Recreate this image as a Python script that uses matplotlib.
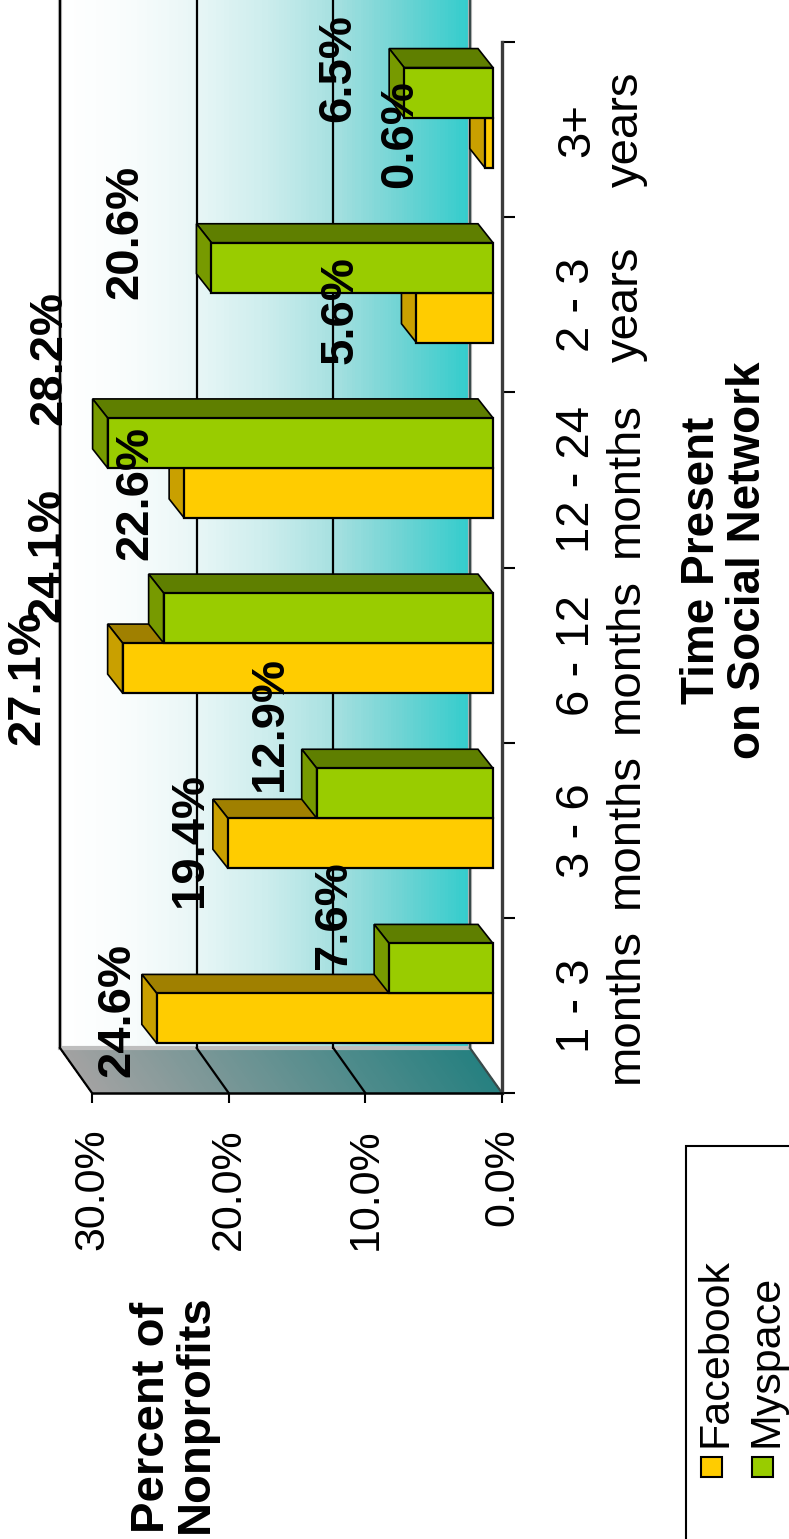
import matplotlib
matplotlib.use("Agg")
import matplotlib.pyplot as plt
import numpy as np
from matplotlib.patches import Polygon, Rectangle
from matplotlib.colors import LinearSegmentedColormap

plt.rcParams["font.family"] = ["Liberation Sans", "DejaVu Sans"]

# ---- data ----
categories = ["1 - 3\nmonths", "3 - 6\nmonths", "6 - 12\nmonths",
              "12 - 24\nmonths", "2 - 3\nyears", "3+\nyears"]
facebook = [24.6, 19.4, 27.1, 22.6, 5.6, 0.6]
myspace = [7.6, 12.9, 24.1, 28.2, 20.6, 6.5]
value_ticks = [0, 10, 20, 30]
value_tick_labels = ["0.0%", "10.0%", "20.0%", "30.0%"]

# label offsets in px (right, down) from the bar tip on the front plane
fb_lab_off = [(-48, -20), (-47, -15), (-104, -2), (-58, -12), (-85, -20), (-94, -21)]
ms_lab_off = [(-64, -65), (-56, -81), (-125, -75), (-67, -97), (-95, -48), (-75, -37)]

# ---- style ----
_FB, _FB_SIDE, _FB_END = "#FFCC00", "#A08000", "#C9A000"
_MS, _MS_SIDE, _MS_END = "#99CC00", "#5F7F00", "#779A00"
wall_cmap = LinearSegmentedColormap.from_list(
    "wall", [(0.0, "#33CCCC"), (0.17, "#70D4D4"), (0.33, "#A6E0E0"),
             (0.5, "#CDEDED"), (0.67, "#E8F6F6"), (0.83, "#F8FCFC"), (1.0, "#FFFFFF")])
side_cmap = LinearSegmentedColormap.from_list("side", ["#268080", "#A2A2A2"])

W, H = 789, 1539
fig = plt.figure(figsize=(W / 100, H / 100), dpi=100)
X0, X1, Y0, Y1 = 92, 502, 42, 1093          # front plane in px
ax = fig.add_axes([X0 / W, 1 - Y1 / H, (X1 - X0) / W, (Y1 - Y0) / H])
ax.set_xlim(30, 0)
ax.set_ylim(-0.5, 5.5)
PXV = (X1 - X0) / 30
PXC = (Y1 - Y0) / 6


def dv(px):
    return px / PXV


def dc(px):
    return px / PXC


BV, BC = dv(32), dc(45)     # back wall offset
SV, SC = dv(9), dc(12)      # bar front-face offset
DV, DC = dv(15), dc(19)     # bar depth
BAR_H = dc(50)

# back wall + side wall gradients
edges = np.linspace(0, 30, 151)
for a, b in zip(edges[:-1], edges[1:]):
    t = (a + b) / 60
    ax.add_patch(Rectangle((a + BV, -0.5 + BC), b - a, 6, fc=wall_cmap(t), ec="none",
                           lw=0, zorder=1, clip_on=False, antialiased=False))
    ax.add_patch(Polygon([(a, -0.5), (b + 0.02, -0.5), (b + 0.02 + BV, -0.5 + BC), (a + BV, -0.5 + BC)],
                         closed=True, fc=side_cmap(t), ec="none", lw=0, zorder=1,
                         clip_on=False, antialiased=False))
ax.add_patch(Rectangle((BV, -0.5 + BC), 30, 6, fill=False, ec="#BEBEBE", lw=3,
                       zorder=1.5, clip_on=False))

# gridlines on walls
for v in value_ticks:
    col = "#3A4A4A" if v == 0 else "black"
    ax.plot([v + BV, v + BV], [-0.5 + BC, 5.5 + BC], color=col, lw=1.6, zorder=2, clip_on=False)
    ax.plot([v, v + BV], [-0.5, -0.5 + BC], color=col, lw=1.6, zorder=2, clip_on=False)


def draw_bar(val, yc, front, side, end, z):
    yb, yt = yc - BAR_H / 2 + SC, yc + BAR_H / 2 + SC
    x0, x1 = SV, val + SV
    ax.add_patch(Polygon([(x0, yt), (x1, yt), (x1 + DV, yt + DC), (x0 + DV, yt + DC)],
                         closed=True, fc=side, ec="black", lw=1.2, zorder=z, clip_on=False))
    ax.add_patch(Polygon([(x1, yb), (x1, yt), (x1 + DV, yt + DC), (x1 + DV, yb + DC)],
                         closed=True, fc=end, ec="black", lw=1.2, zorder=z, clip_on=False))
    ax.add_patch(Rectangle((x0, yb), val, BAR_H, fc=front, ec="black", lw=1.6,
                           zorder=z + 0.1, clip_on=False))


ypos = np.arange(len(categories))
for k in ypos:
    draw_bar(facebook[k], k - BAR_H / 2, _FB, _FB_SIDE, _FB_END, 4 + k * 0.01)
    draw_bar(myspace[k], k + BAR_H / 2, _MS, _MS_SIDE, _MS_END, 4.5 + k * 0.01)

# data labels
for vals, offs, sgn in [(facebook, fb_lab_off, -1), (myspace, ms_lab_off, 1)]:
    for k, (v, (ox, oy)) in enumerate(zip(vals, offs)):
        ax.annotate(f"{v:.1f}%", xy=(v, k + sgn * BAR_H / 2), xytext=(ox * 0.72, -oy * 0.72),
                    textcoords="offset points", ha="center", va="center", rotation=90,
                    fontsize=34, fontweight="bold", annotation_clip=False, zorder=10)

# axes / ticks
for s in ("top", "left"):
    ax.spines[s].set_visible(False)
ax.spines["bottom"].set_linewidth(1.8)
ax.spines["right"].set_linewidth(2.4)
ax.spines["right"].set_color("#3C3C3C")
ax.set_xticks(value_ticks, value_tick_labels)
ax.tick_params(axis="x", direction="out", length=7.2, width=1.5, pad=18,
               labelsize=31, labelrotation=90)
ax.yaxis.tick_right()
ax.set_yticks(np.arange(-0.5, len(categories), 1))
ax.set_yticks(ypos, categories, minor=True, rotation=90, va="center", ha="left",
              multialignment="center", linespacing=1.15)
ax.tick_params(axis="y", which="major", direction="out", length=9.4, width=1.5,
               labelright=False, labelleft=False)
ax.tick_params(axis="y", which="minor", length=0, pad=38, labelsize=34,
               labelright=True, labelleft=False)
ax.patch.set_visible(False)

fig.text(725 / W, 1 - 560 / H, "Time Present\non Social Network", rotation=90,
         ha="center", va="center", multialignment="center", fontsize=33,
         fontweight="bold", linespacing=1.05)
fig.text(174 / W, 1 - 1533 / H, "Percent of\nNonprofits", rotation=90,
         ha="center", va="bottom", multialignment="left", fontsize=34,
         fontweight="bold", linespacing=1.0)

# legend (cropped by the image edge)
fig.add_artist(Rectangle((686 / W, 1 - 1550 / H), 120 / W, (1550 - 1146) / H,
                         transform=fig.transFigure, fill=False, ec="black", lw=1.5))
for xs, col, name in [(701, _FB, "Facebook"), (752, _MS, "Myspace")]:
    fig.add_artist(Rectangle((xs / W, 1 - 1477 / H), 21 / W, 20 / H, transform=fig.transFigure,
                             fc=col, ec="black", lw=1.5))
    fig.text((xs + 14) / W, 1 - 1447 / H, name, rotation=90, ha="center", va="bottom",
             fontsize=31)

fig.savefig("out.png", dpi=100)
